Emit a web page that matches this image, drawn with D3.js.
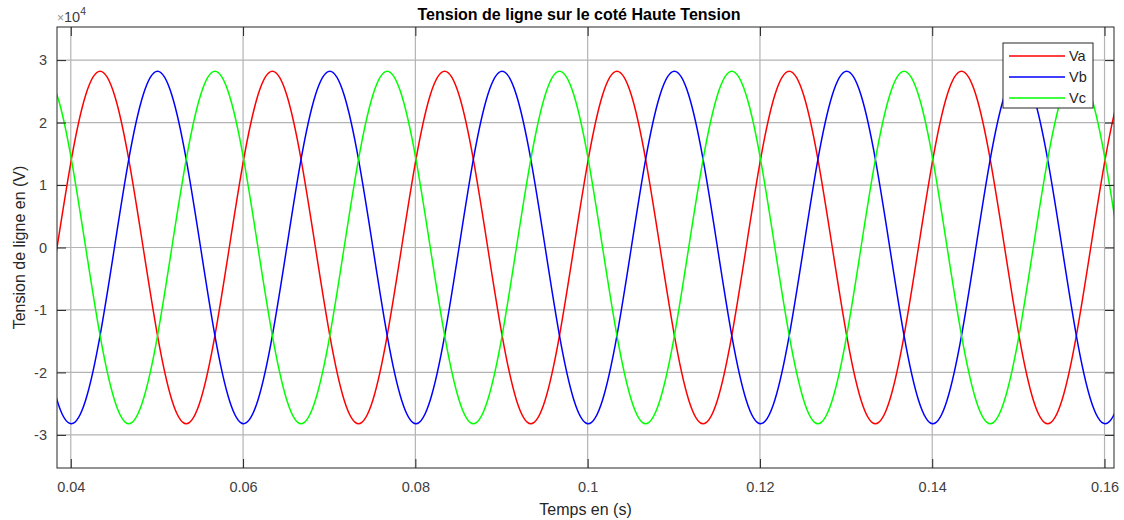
<!DOCTYPE html>
<html>
<head>
<meta charset="utf-8">
<script src="https://cdn.jsdelivr.net/npm/d3@7"></script>
<style>
  body { margin: 0; background: #fff; }
  text { font-family: "Liberation Sans", Arial, sans-serif; }
</style>
</head>
<body>
<div id="chart"></div>
<script>
// samples (time in s, voltage in V), one every 30 deg of a 50 Hz period
var times = [
  0.03673, 0.03840, 0.04007, 0.04173, 0.04340, 0.04507, 0.04673, 0.04840, 0.05007, 0.05173, 0.05340, 0.05507,
  0.05673, 0.05840, 0.06007, 0.06173, 0.06340, 0.06507, 0.06673, 0.06840, 0.07007, 0.07173, 0.07340, 0.07507,
  0.07673, 0.07840, 0.08007, 0.08173, 0.08340, 0.08507, 0.08673, 0.08840, 0.09007, 0.09173, 0.09340, 0.09507,
  0.09673, 0.09840, 0.10007, 0.10173, 0.10340, 0.10507, 0.10673, 0.10840, 0.11007, 0.11173, 0.11340, 0.11507,
  0.11673, 0.11840, 0.12007, 0.12173, 0.12340, 0.12507, 0.12673, 0.12840, 0.13007, 0.13173, 0.13340, 0.13507,
  0.13673, 0.13840, 0.14007, 0.14173, 0.14340, 0.14507, 0.14673, 0.14840, 0.15007, 0.15173, 0.15340, 0.15507,
  0.15673, 0.15840, 0.16007, 0.16173, 0.16340
];

var va = [
  -14100, 0, 14100, 24400, 28200, 24400, 14100, 0, -14100, -24400, -28200, -24400,
  -14100, 0, 14100, 24400, 28200, 24400, 14100, 0, -14100, -24400, -28200, -24400,
  -14100, 0, 14100, 24400, 28200, 24400, 14100, 0, -14100, -24400, -28200, -24400,
  -14100, 0, 14100, 24400, 28200, 24400, 14100, 0, -14100, -24400, -28200, -24400,
  -14100, 0, 14100, 24400, 28200, 24400, 14100, 0, -14100, -24400, -28200, -24400,
  -14100, 0, 14100, 24400, 28200, 24400, 14100, 0, -14100, -24400, -28200, -24400,
  -14100, 0, 14100, 24400, 28200
];

var vb = [
  -14100, -24400, -28200, -24400, -14100, 0, 14100, 24400, 28200, 24400, 14100, 0,
  -14100, -24400, -28200, -24400, -14100, 0, 14100, 24400, 28200, 24400, 14100, 0,
  -14100, -24400, -28200, -24400, -14100, 0, 14100, 24400, 28200, 24400, 14100, 0,
  -14100, -24400, -28200, -24400, -14100, 0, 14100, 24400, 28200, 24400, 14100, 0,
  -14100, -24400, -28200, -24400, -14100, 0, 14100, 24400, 28200, 24400, 14100, 0,
  -14100, -24400, -28200, -24400, -14100, 0, 14100, 24400, 28200, 24400, 14100, 0,
  -14100, -24400, -28200, -24400, -14100
];

var vc = [
  28200, 24400, 14100, 0, -14100, -24400, -28200, -24400, -14100, 0, 14100, 24400,
  28200, 24400, 14100, 0, -14100, -24400, -28200, -24400, -14100, 0, 14100, 24400,
  28200, 24400, 14100, 0, -14100, -24400, -28200, -24400, -14100, 0, 14100, 24400,
  28200, 24400, 14100, 0, -14100, -24400, -28200, -24400, -14100, 0, 14100, 24400,
  28200, 24400, 14100, 0, -14100, -24400, -28200, -24400, -14100, 0, 14100, 24400,
  28200, 24400, 14100, 0, -14100, -24400, -28200, -24400, -14100, 0, 14100, 24400,
  28200, 24400, 14100, 0, -14100
];

var seriesNames = ["Va", "Vb", "Vc"];
var seriesColors = ["#ff0000", "#0000ff", "#00ff00"];
var xTicks = [0.04, 0.06, 0.08, 0.1, 0.12, 0.14, 0.16];
var yTicks = [-30000, -20000, -10000, 0, 10000, 20000, 30000];

var width = 1124,
    height = 520,
    plotL = 57, plotR = 1114, plotT = 27, plotB = 468;

var x = d3.scaleLinear().domain([0.0384, 0.1611]).range([plotL, plotR]);
var y = d3.scaleLinear().domain([-35300, 35300]).range([plotB, plotT]);

var svg = d3.select("#chart").append("svg")
    .attr("width", width)
    .attr("height", height);

svg.append("rect")
    .attr("x", plotL).attr("y", plotT)
    .attr("width", plotR - plotL).attr("height", plotB - plotT)
    .attr("fill", "#fff");

// grid
svg.append("g").selectAll("line")
    .data(xTicks)
  .enter().append("line")
    .attr("x1", d => x(d)).attr("x2", d => x(d))
    .attr("y1", plotT).attr("y2", plotB)
    .attr("stroke", "#b4b4b4").attr("stroke-width", 1.2);
svg.append("g").selectAll("line")
    .data(yTicks)
  .enter().append("line")
    .attr("x1", plotL).attr("x2", plotR)
    .attr("y1", d => y(d)).attr("y2", d => y(d))
    .attr("stroke", "#b4b4b4").attr("stroke-width", 1.2);

svg.append("clipPath").attr("id", "clip")
  .append("rect")
    .attr("x", plotL).attr("y", plotT)
    .attr("width", plotR - plotL).attr("height", plotB - plotT);

var line = d3.line()
    .x((d, i) => x(times[i]))
    .y(d => y(d))
    .curve(d3.curveNatural);

svg.append("g").attr("clip-path", "url(#clip)")
  .selectAll("path")
    .data([va, vb, vc])
  .enter().append("path")
    .attr("d", line)
    .attr("fill", "none")
    .attr("stroke", (d, i) => seriesColors[i])
    .attr("stroke-width", 1.5);

// axes, MATLAB style: ticks inside, on all four sides
var xAxisB = d3.axisBottom(x).tickValues(xTicks).tickSize(-9).tickPadding(14).tickFormat(d3.format("~g"));
var xAxisT = d3.axisTop(x).tickValues(xTicks).tickSize(-9).tickFormat("");
var yAxisL = d3.axisLeft(y).tickValues(yTicks).tickSize(-9).tickPadding(10).tickFormat(d => d / 10000);
var yAxisR = d3.axisRight(y).tickValues(yTicks).tickSize(-9).tickFormat("");

function styleAxis(g) {
  g.select(".domain").remove();
  g.selectAll(".tick line").attr("stroke", "#262626");
  g.selectAll(".tick text").attr("fill", "#404040").style("font-size", "14.5px")
    .style("font-family", "'Liberation Sans', Arial, sans-serif");
}

svg.append("g").attr("transform", "translate(0," + plotB + ")").call(xAxisB).call(styleAxis);
svg.append("g").attr("transform", "translate(0," + plotT + ")").call(xAxisT).call(styleAxis);
svg.append("g").attr("transform", "translate(" + plotL + ",0)").call(yAxisL).call(styleAxis);
svg.append("g").attr("transform", "translate(" + plotR + ",0)").call(yAxisR).call(styleAxis);

svg.append("rect")
    .attr("x", plotL).attr("y", plotT)
    .attr("width", plotR - plotL).attr("height", plotB - plotT)
    .attr("fill", "none").attr("stroke", "#262626").attr("stroke-width", 1);

// exponent label
var expo = svg.append("text")
    .attr("x", plotL).attr("y", 22)
    .attr("fill", "#404040").style("font-size", "14.5px");
expo.append("tspan").style("font-size", "12px").style("fill", "#909090").text("\u00d7");
expo.append("tspan").text("10");
expo.append("tspan").attr("dy", -7).style("font-size", "10.5px").text("4");

svg.append("text")
    .attr("x", 579).attr("y", 20)
    .attr("text-anchor", "middle")
    .style("font-size", "16px").style("font-weight", "bold")
    .attr("fill", "#000")
    .text("Tension de ligne sur le coté Haute Tension");

svg.append("text")
    .attr("x", (plotL + plotR) / 2).attr("y", 515)
    .attr("text-anchor", "middle")
    .style("font-size", "16px").attr("fill", "#262626")
    .text("Temps en (s)");

svg.append("text")
    .attr("transform", "translate(25," + (plotT + plotB) / 2 + ") rotate(-90)")
    .attr("text-anchor", "middle")
    .style("font-size", "16px").attr("fill", "#262626")
    .text("Tension de ligne en (V)");

// legend
var legend = svg.append("g").attr("transform", "translate(1003,43)");
legend.append("rect")
    .attr("width", 90).attr("height", 65)
    .attr("fill", "#fff").attr("stroke", "#262626").attr("stroke-width", 1);
var items = legend.selectAll("g.item")
    .data(seriesNames)
  .enter().append("g")
    .attr("class", "item")
    .attr("transform", (d, i) => "translate(0," + (13 + i * 21) + ")");
items.append("line")
    .attr("x1", 6).attr("x2", 62)
    .attr("stroke", (d, i) => seriesColors[i]).attr("stroke-width", 1.5);
items.append("text")
    .attr("x", 66).attr("dy", "0.35em")
    .style("font-size", "14.5px").attr("fill", "#262626")
    .text(d => d);
</script>
</body>
</html>
